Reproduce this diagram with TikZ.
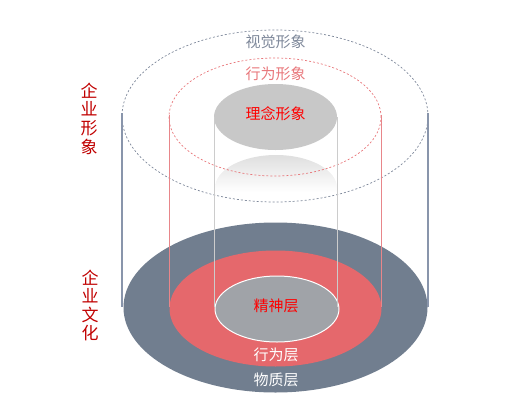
\documentclass[tikz,border=0pt]{standalone}
\usepackage{fontspec}
\newfontfamily\cjk{Noto Sans CJK SC}
\definecolor{slate}{HTML}{717E8F}
\definecolor{slateline}{HTML}{8995AB}
\definecolor{rosefill}{HTML}{E5686C}
\definecolor{roseline}{HTML}{E8868A}
\definecolor{coregray}{HTML}{A0A3A8}
\definecolor{topgray}{HTML}{C8C8C8}
\definecolor{dashgray}{HTML}{7E889A}
\definecolor{dashred}{HTML}{E8777B}
\definecolor{darkred}{HTML}{C00000}
\begin{document}
\begin{tikzpicture}[x=1pt,y=-1pt,
  lbl/.style={font=\cjk\fontsize{15}{17}\selectfont, inner sep=0pt},
  vlbl/.style={font=\cjk\fontsize{17}{18.6}\selectfont, text=darkred, align=center, inner sep=0pt},
  dashring/.style={line width=0.7pt, dash pattern=on 2pt off 2pt}]
\useasboundingbox (0,0) rectangle (522,418);
% bottom layers
\fill[slate] (275.5,307.5) ellipse [x radius=152pt, y radius=85pt];
\fill[rosefill] (275.5,308.5) ellipse [x radius=106pt, y radius=58pt];
\draw[white, fill=coregray, line width=1pt] (277,309) ellipse [x radius=62pt, y radius=33pt];
% ghost reflection
\begin{scope}
  \clip (276,188) ellipse [x radius=61pt, y radius=33pt];
  \shade[top color=black!13, bottom color=white] (214,154) rectangle (338,192);
\end{scope}
% top rings
\draw[dashgray, dashring] (275,116) ellipse [x radius=153pt, y radius=86pt];
\draw[dashred, dashring] (275,117) ellipse [x radius=106pt, y radius=59pt];
\fill[topgray] (275.5,117) ellipse [x radius=61.5pt, y radius=33pt];
% vertical lines
\coordinate (oLt) at (122,113); \coordinate (oLb) at (122,307);
\coordinate (oRt) at (428,113); \coordinate (oRb) at (428,307);
\coordinate (rLt) at (169,115); \coordinate (rLb) at (169,307);
\coordinate (rRt) at (381,115); \coordinate (rRb) at (381,307);
\coordinate (gLt) at (214,117); \coordinate (gLb) at (214,307);
\coordinate (gRt) at (337,117); \coordinate (gRb) at (337,307);
\draw[slateline, line width=1.2pt] (oLt) -- (oLb);
\draw[slateline, line width=1.2pt] (oRt) -- (oRb);
\draw[roseline, line width=0.9pt] (rLt) -- (rLb);
\draw[roseline, line width=0.9pt] (rRt) -- (rRb);
\draw[black!20, line width=0.9pt] (gLt) -- (gLb);
\draw[black!20, line width=0.9pt] (gRt) -- (gRb);
% labels
\node[lbl, text=dashgray] (visual) at (275.5,42) {视觉形象};
\node[lbl, text=dashred] (behimg) at (275.5,74) {行为形象};
\node[lbl, text=red] (idea) at (275.5,113.5) {理念形象};
\node[lbl, text=red] (spirit) at (276,306) {精神层};
\node[lbl, text=white] (behlayer) at (276,355) {行为层};
\node[lbl, text=white] (material) at (276,380) {物质层};
\node[vlbl] (image) at (89,118.5) {企\\业\\形\\象};
\node[vlbl] (culture) at (90,305.5) {企\\业\\文\\化};
\end{tikzpicture}
\end{document}
